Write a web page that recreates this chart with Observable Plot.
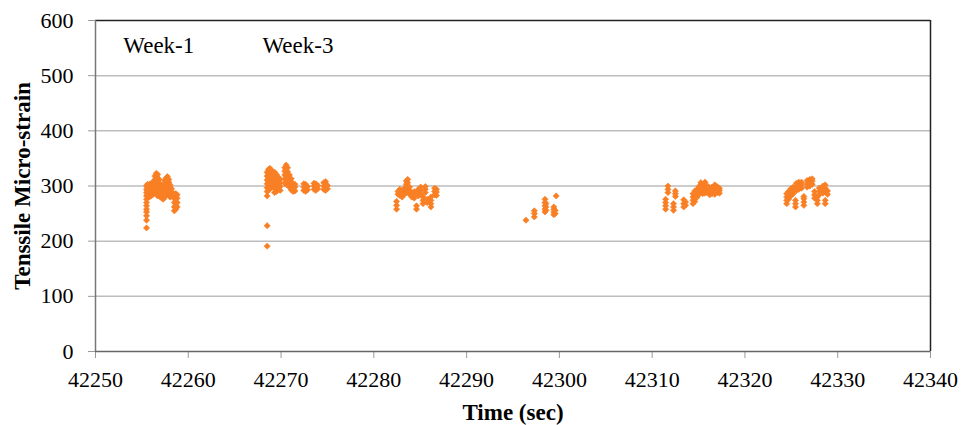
<!DOCTYPE html>
<html><head><meta charset="utf-8">
<script src="https://cdn.jsdelivr.net/npm/d3@7"></script>
<script src="https://cdn.jsdelivr.net/npm/@observablehq/plot@0.6"></script>
<style>body{margin:0;background:#fff} svg text{font-family:"Liberation Serif","Times New Roman",serif !important;}</style>
</head><body><div id="chart"></div>
<script>
// Each entry: [time (sec), [micro-strain readings at that time]]
const cluster1 = [
  [42255.50, [224, 238, 246, 253, 258, 264, 270, 276, 282, 288, 294, 300]],
  [42255.60, [285, 292, 298, 303]],
  [42255.80, [280, 288, 296, 303]],
  [42256.00, [282, 290, 298, 305]],
  [42256.20, [285, 293, 301, 306]],
  [42256.40, [288, 296, 304, 312, 318]],
  [42256.55, [285, 293, 301, 309, 317, 323]],
  [42256.70, [282, 290, 298, 306, 314, 321]],
  [42256.85, [283, 290, 298, 306, 312]],
  [42257.00, [280, 288, 296, 303]],
  [42257.15, [278, 285, 293, 300]],
  [42257.30, [276, 283, 291, 298]],
  [42257.45, [280, 288, 296, 304, 310]],
  [42257.60, [282, 290, 298, 306, 314]],
  [42257.75, [285, 293, 301, 309, 317]],
  [42257.90, [283, 291, 299, 307, 312]],
  [42258.05, [280, 288, 296, 302]],
  [42258.20, [282, 290, 295]],
  [42258.50, [255, 262, 270, 277, 285]],
  [42258.65, [258, 265, 272, 280, 286]],
  [42258.80, [262, 270, 278, 284]]
];
const cluster2 = [
  [42268.50, [191, 228, 282, 290, 297, 304, 311, 318, 325]],
  [42268.65, [292, 300, 308, 316, 323, 330]],
  [42268.80, [295, 303, 311, 319, 327, 332]],
  [42269.00, [298, 306, 314, 322, 328]],
  [42269.30, [288, 295, 303, 311, 319, 325]],
  [42269.50, [290, 298, 306, 314, 321]],
  [42269.70, [295, 302, 310, 316]],
  [42269.90, [292, 299, 306, 312]],
  [42270.40, [305, 313, 320, 327, 333]],
  [42270.55, [303, 311, 319, 327, 334, 338]],
  [42270.70, [302, 310, 318, 326, 333]],
  [42270.90, [298, 306, 314, 320]],
  [42271.10, [293, 300, 307, 313]],
  [42271.30, [290, 297, 304]],
  [42271.50, [291, 298, 303]],
  [42272.45, [292, 298, 304]],
  [42272.65, [290, 297, 303]],
  [42272.85, [293, 299]],
  [42273.55, [294, 300, 305]],
  [42273.75, [292, 298, 304]],
  [42273.95, [295, 301]],
  [42274.60, [294, 300, 306]],
  [42274.80, [292, 298, 304, 308]],
  [42275.00, [295, 301]]
];
const cluster3 = [
  [42282.45, [258, 265, 272]],
  [42282.60, [285, 290]],
  [42282.80, [283, 289, 294]],
  [42283.05, [280, 287]],
  [42283.30, [285, 291, 296]],
  [42283.50, [288, 296, 303, 309]],
  [42283.65, [290, 298, 306, 312]],
  [42283.85, [285, 292, 298]],
  [42284.10, [280, 286]],
  [42284.35, [278, 285, 290]],
  [42284.60, [258, 264]],
  [42284.80, [282, 289, 294]],
  [42285.05, [285, 292, 298]],
  [42285.30, [268, 274, 280]],
  [42285.55, [288, 294, 299]],
  [42285.75, [270, 276]],
  [42286.15, [262, 268, 274, 280]],
  [42286.55, [284, 290, 296]],
  [42286.75, [283, 289, 294]]
];
const cluster4 = [
  [42296.40, [238]],
  [42297.30, [244, 250, 255]],
  [42298.45, [253, 258, 264, 270, 276]],
  [42298.55, [256, 262, 268]],
  [42299.40, [248, 253, 258, 262]],
  [42299.55, [250, 256]],
  [42299.65, [282]]
];
const cluster5 = [
  [42311.45, [258, 264, 270, 276]],
  [42311.70, [288, 294, 300]],
  [42312.30, [256, 262, 268]],
  [42312.50, [281, 286, 291]],
  [42313.40, [262, 268, 275]],
  [42313.60, [265, 271]],
  [42314.40, [268, 274, 280, 286]],
  [42314.60, [272, 278, 285, 291]],
  [42314.85, [280, 287, 294]],
  [42315.05, [285, 292, 299]],
  [42315.25, [288, 295, 302, 306]],
  [42315.45, [286, 293, 300]],
  [42315.70, [287, 294, 301, 307]],
  [42315.95, [288, 295, 300]],
  [42316.20, [284, 290, 297]],
  [42316.45, [286, 292, 298]],
  [42316.75, [285, 291, 297, 302]],
  [42317.00, [288, 294, 299]],
  [42317.25, [287, 292, 296]]
];
const cluster6 = [
  [42324.50, [268, 274, 280, 286]],
  [42324.70, [276, 283, 290]],
  [42324.95, [282, 289, 295]],
  [42325.20, [286, 292, 298]],
  [42325.45, [262, 268, 274]],
  [42325.55, [292, 299, 305]],
  [42325.80, [294, 301, 307]],
  [42326.10, [296, 302, 307]],
  [42326.35, [265, 271, 277, 281]],
  [42326.70, [298, 304, 310]],
  [42327.00, [300, 306, 312]],
  [42327.25, [303, 309, 313]],
  [42327.50, [278, 284, 290]],
  [42327.80, [268, 274, 280]],
  [42328.00, [284, 290, 296]],
  [42328.40, [287, 294, 300]],
  [42328.65, [268, 274, 290, 296, 302]],
  [42328.90, [285, 291]]
];
const xTicks = [42250, 42260, 42270, 42280, 42290, 42300, 42310, 42320, 42330, 42340];
const yTicks = [0, 100, 200, 300, 400, 500, 600];
const weekLabels = ["Week-1", "Week-3"];
const weekX = [42253, 42268];
const weekY = [555, 555];
const xTitle = "Time (sec)";
const yTitle = "Tenssile Micro-strain";

const points = [cluster1, cluster2, cluster3, cluster4, cluster5, cluster6]
  .flatMap(c => c.flatMap(([t, vs]) => vs.map(v => ({t, v}))));
const weeks = weekLabels.map((label, i) => ({label, x: weekX[i], y: weekY[i]}));

const color = "#F97F25";
const serif = "Liberation Serif";

const chart = Plot.plot({
  width: 962,
  height: 425,
  marginLeft: 95,
  marginRight: 32,
  marginTop: 20,
  marginBottom: 74,
  style: {fontFamily: serif, fontSize: "22px", background: "white", color: "black"},
  x: {domain: [42250, 42340]},
  y: {domain: [0, 600]},
  marks: [
    Plot.gridY(yTicks.filter(d => d > 0 && d < 600), {stroke: "#bdbdbd", strokeOpacity: 1, strokeWidth: 1.5}),
    Plot.ruleY([600], {stroke: "#222", strokeWidth: 1.5}),
    Plot.ruleX([42340], {stroke: "#222", strokeWidth: 1.5}),
    Plot.axisY({ticks: yTicks, tickSize: 7, tickPadding: 15, stroke: "#999", fill: "black", fontSize: 22, fontFamily: serif, label: null, tickFormat: d => String(d)}),
    Plot.axisX({ticks: xTicks, tickSize: 7, tickPadding: 13, stroke: "#999", fill: "black", fontSize: 22, fontFamily: serif, label: null, tickFormat: d => String(d)}),
    Plot.ruleX([42250], {stroke: "#777", strokeWidth: 1.5}),
    Plot.ruleY([0], {stroke: "#666", strokeWidth: 1.5}),
    Plot.dot(points, {x: "t", y: "v", symbol: "diamond2", r: 2.8, fill: color, stroke: color, strokeWidth: 0.6}),
    Plot.text(weeks, {x: "x", y: "y", text: "label", textAnchor: "start", fontSize: 23, fontFamily: serif, fill: "black"}),
    Plot.text([xTitle], {frameAnchor: "bottom", dy: 61, lineAnchor: "middle", fontSize: 23, fontFamily: serif, fontWeight: "bold", fill: "black"}),
    Plot.text([yTitle], {frameAnchor: "left", dx: -73, rotate: -90, textAnchor: "middle", lineAnchor: "middle", fontSize: 23, fontFamily: serif, fontWeight: "bold", fill: "black"})
  ]
});
document.getElementById("chart").appendChild(chart);
</script>
</body></html>
